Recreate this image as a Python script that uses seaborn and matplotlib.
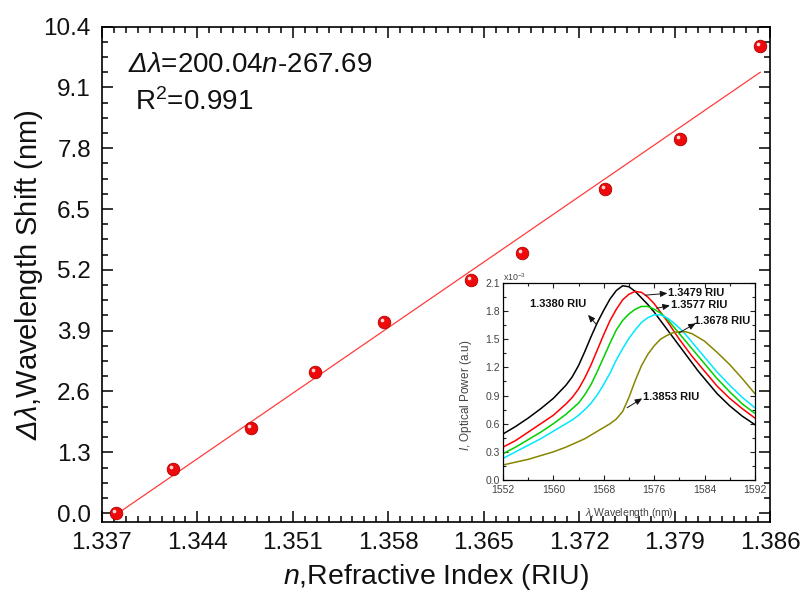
import numpy as np
import pandas as pd
import matplotlib
matplotlib.use("Agg")
import matplotlib.pyplot as plt
import seaborn as sns
from matplotlib.ticker import FixedLocator, AutoMinorLocator, FormatStrFormatter
from matplotlib.transforms import offset_copy

# ---------------- data ----------------
refractive_index = [1.3380, 1.3422, 1.3479, 1.3526, 1.3577, 1.3641, 1.3678, 1.3739, 1.3794, 1.3853]
wavelength_shift = [0.00, 0.94, 1.82, 3.01, 4.09, 4.98, 5.57, 6.92, 8.00, 9.98]
fit_slope = 200.04
fit_intercept = -267.69

x_ticks = [1.337, 1.344, 1.351, 1.358, 1.365, 1.372, 1.379, 1.386]
y_ticks = [0.0, 1.3, 2.6, 3.9, 5.2, 6.5, 7.8, 9.1, 10.4]

wavelength = [1552, 1554, 1556, 1558, 1560,
              1562, 1563, 1564, 1565, 1566, 1567, 1568, 1569, 1570, 1571, 1572, 1573,
              1574, 1575, 1576, 1577, 1578, 1579, 1580, 1581, 1582, 1583, 1584,
              1586, 1588, 1590, 1592]
power_13380 = [0.49, 0.57, 0.66, 0.76, 0.87,
               1.01, 1.10, 1.22, 1.37, 1.53, 1.68, 1.81, 1.93, 2.02, 2.07, 2.06, 2.01,
               1.94, 1.87, 1.79, 1.70, 1.61, 1.52, 1.43, 1.34, 1.25, 1.16, 1.08,
               0.92, 0.79, 0.68, 0.59]
power_13479 = [0.35, 0.42, 0.51, 0.60, 0.69,
               0.81, 0.88, 0.97, 1.09, 1.23, 1.39, 1.55, 1.70, 1.82, 1.92, 1.98, 2.01,
               2.00, 1.95, 1.88, 1.79, 1.70, 1.60, 1.50, 1.41, 1.32, 1.24, 1.16,
               1.00, 0.87, 0.76, 0.66]
power_13577 = [0.28, 0.35, 0.43, 0.51, 0.60,
               0.70, 0.76, 0.82, 0.91, 1.02, 1.16, 1.31, 1.46, 1.60, 1.70, 1.77, 1.82,
               1.85, 1.85, 1.82, 1.78, 1.72, 1.64, 1.56, 1.48, 1.40, 1.32, 1.24,
               1.08, 0.94, 0.81, 0.71]
power_13678 = [0.23, 0.30, 0.37, 0.44, 0.52,
               0.60, 0.64, 0.69, 0.75, 0.82, 0.91, 1.02, 1.14, 1.28, 1.40, 1.51, 1.60,
               1.68, 1.73, 1.76, 1.76, 1.73, 1.68, 1.62, 1.55, 1.47, 1.39, 1.31,
               1.15, 1.01, 0.88, 0.77]
power_13853 = [0.16, 0.19, 0.22, 0.26, 0.30,
               0.35, 0.38, 0.41, 0.44, 0.48, 0.52, 0.56, 0.60, 0.65, 0.73, 0.88, 1.06,
               1.22, 1.34, 1.43, 1.50, 1.54, 1.57, 1.58, 1.58, 1.56, 1.52, 1.48,
               1.36, 1.23, 1.08, 0.92]
spectrum_names = ["1.3380", "1.3479", "1.3577", "1.3678", "1.3853"]
spectrum_colors = ["#000000", "#ff0000", "#00d000", "#00e8ff", "#868600"]

inset_x_ticks = [1552, 1560, 1568, 1576, 1584, 1592]
inset_y_ticks = [0.0, 0.3, 0.6, 0.9, 1.2, 1.5, 1.8, 2.1]

# ---------------- style ----------------
sns.set_theme(style="ticks")
plt.rcParams.update({
    "font.family": ["Liberation Sans", "DejaVu Sans"],
    "mathtext.fontset": "custom",
    "mathtext.rm": "Liberation Sans",
    "mathtext.it": "Liberation Sans:italic",
    "mathtext.sf": "Liberation Sans:italic",
    "mathtext.bf": "Liberation Sans:bold",
    "axes.edgecolor": "black",
    "axes.linewidth": 1.2,
})

fig = plt.figure(figsize=(8.05, 5.92), dpi=100)
ax = fig.add_axes([0.1267, 0.1182, 0.8298, 0.8370])

# fit line
fit_x = [min(refractive_index), max(refractive_index)]
fit_y = [fit_slope * v + fit_intercept for v in fit_x]
sns.lineplot(x=fit_x, y=fit_y, color="#ff3c3c", linewidth=0.9, ax=ax, zorder=2)

# data points (sphere-like)
sns.scatterplot(x=refractive_index, y=wavelength_shift, s=82, color="#ee0a0a",
                edgecolor="#b00000", linewidth=0.6, ax=ax, zorder=3, clip_on=False)
hl = offset_copy(ax.transData, fig=fig, x=-2.0, y=2.0, units="dots")
ax.scatter(refractive_index, wavelength_shift, s=7, color="#ffd8d8", linewidths=0,
           transform=hl, zorder=4, clip_on=False)

ax.set_xlim(1.337, 1.386)
ax.set_ylim(-0.19, 10.4)
ax.xaxis.set_major_locator(FixedLocator(x_ticks))
ax.yaxis.set_major_locator(FixedLocator(y_ticks))
ax.xaxis.set_major_formatter(FormatStrFormatter("%.3f"))
ax.yaxis.set_major_formatter(FormatStrFormatter("%.1f"))
ax.xaxis.set_minor_locator(AutoMinorLocator(8))
ax.yaxis.set_minor_locator(AutoMinorLocator(4))
ax.tick_params(which="both", direction="in", top=True, right=True, width=1.1, color="black")
ax.tick_params(which="major", length=8, labelsize=17.5, labelcolor="#111111")
ax.tick_params(which="minor", length=4.5)
ax.tick_params(axis="x", which="major", pad=7)
ax.tick_params(axis="y", which="major", pad=8)

ax.set_xlabel(r"$\mathit{n}$,Refractive Index (RIU)", fontsize=20.5, color="#111111")
ax.set_ylabel(r"$\mathsf{\Delta\lambda}$,Wavelength Shift (nm)", fontsize=21, color="#111111")
ax.xaxis.set_label_coords(0.5, -0.08)
ax.yaxis.set_label_coords(-0.085, 0.5)

ax.text(0.039, 0.922, r"$\mathsf{\Delta\lambda}$=200.04$\mathit{n}$-267.69", transform=ax.transAxes,
        fontsize=20, ha="left", va="center", color="#111111")
ax.text(0.049, 0.848, r"R$^2$=0.991", transform=ax.transAxes,
        fontsize=20, ha="left", va="center", color="#111111")

# ---------------- inset ----------------
axin = fig.add_axes([0.6248, 0.1892, 0.3130, 0.3328])
axin.set_facecolor("white")
spectra = pd.DataFrame({
    "wavelength": wavelength * 5,
    "power": power_13380 + power_13479 + power_13577 + power_13678 + power_13853,
    "n": [name for name in spectrum_names for _ in wavelength],
})
sns.lineplot(data=spectra, x="wavelength", y="power", hue="n",
             palette=dict(zip(spectrum_names, spectrum_colors)),
             linewidth=1.1, legend=False, ax=axin)
axin.set_xlim(1552, 1592)
axin.set_ylim(0, 2.1)
axin.xaxis.set_major_locator(FixedLocator(inset_x_ticks))
axin.yaxis.set_major_locator(FixedLocator(inset_y_ticks))
axin.yaxis.set_major_formatter(FormatStrFormatter("%.1f"))
axin.xaxis.set_minor_locator(AutoMinorLocator(2))
axin.yaxis.set_minor_locator(AutoMinorLocator(2))
axin.tick_params(which="both", direction="in", top=True, right=True, width=0.8, color="#222222")
axin.tick_params(which="major", length=3.5, labelsize=7.5, labelcolor="#444444")
axin.tick_params(axis="x", which="major", pad=3.5)
axin.tick_params(axis="y", which="major", pad=2)
axin.tick_params(which="minor", length=2)
for sp in axin.spines.values():
    sp.set_linewidth(0.9)
axin.set_xlabel(r"$\mathit{\lambda}$,Wavelength (nm)", fontsize=7.5, color="#444444")
axin.set_ylabel(r"$\mathit{I}$, Optical Power (a.u)", fontsize=8.5, color="#444444")
axin.xaxis.set_label_coords(0.5, -0.13)
axin.yaxis.set_label_coords(-0.115, 0.43)
axin.text(0.0, 1.0, r"x10$^{-3}$", transform=axin.transAxes, fontsize=6.3,
          color="#444444", ha="left", va="bottom")

label_kw = dict(fontsize=8, fontweight="bold", color="#111111", va="center", ha="left")
arrow_kw = dict(arrowstyle="-|>,head_length=0.35,head_width=0.15", color="#111111", lw=0.7,
                shrinkA=0, shrinkB=0)
axin.text(1556.3, 1.88, "1.3380 RIU", **label_kw)
axin.annotate("", xy=(1565.5, 1.76), xytext=(1566.8, 1.66), arrowprops=arrow_kw)
axin.text(1578.2, 1.99, "1.3479 RIU", **label_kw)
axin.annotate("", xy=(1578.1, 1.99), xytext=(1574.6, 1.97), arrowprops=arrow_kw)
axin.text(1578.6, 1.86, "1.3577 RIU", **label_kw)
axin.annotate("", xy=(1578.5, 1.86), xytext=(1576.4, 1.83), arrowprops=arrow_kw)
axin.text(1582.4, 1.70, "1.3678 RIU", **label_kw)
axin.annotate("", xy=(1582.6, 1.67), xytext=(1580.0, 1.57), arrowprops=arrow_kw)
axin.text(1574.2, 0.885, "1.3853 RIU", **label_kw)
axin.annotate("", xy=(1574.1, 0.87), xytext=(1571.7, 0.77), arrowprops=arrow_kw)

fig.savefig("out.png", dpi=100)
